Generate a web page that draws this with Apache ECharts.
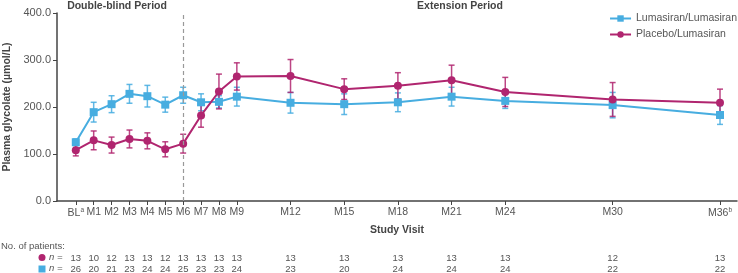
<!DOCTYPE html>
<html><head><meta charset="utf-8">
<script src="https://cdn.jsdelivr.net/npm/echarts@6/dist/echarts.min.js"></script>
<style>html,body{margin:0;padding:0;background:#fff}#c{width:738px;height:273px}</style>
</head><body><div id="c"></div>
<script>
const months = [0,1,2,3,4,5,6,7,8,9,12,15,18,21,24,30,36];
const tickLabels = ['BL','M1','M2','M3','M4','M5','M6','M7','M8','M9','M12','M15','M18','M21','M24','M30','M36'];
const tickSup = ['a','','','','','','','','','','','','','','','','b'];
const blueMean = [125,189,206,228,223,205,225,210,211,222,209,206,210,222,213,204,183];
const blueErr  = [7,21,18,20,23,16,17,18,13,20,22,22,20,20,16,27,20];
const purpleMean = [108,129,119,132,128,110,122,182,233,265,266,238,245,257,232,216,209];
const purpleErr  = [12,20,17,19,17,16,20,25,37,29,35,22,28,32,31,36,29];
const purpleN = [13,10,12,13,13,12,13,13,13,13,13,13,13,13,13,12,13];
const blueN   = [26,20,21,23,24,24,25,23,23,24,23,20,24,24,24,22,22];
const yTicks = [0,100,200,300,400];

const BLUE = '#47ADE0', PURPLE = '#B0256F', TXT = '#555', AX = '#444';
const FONT = 'Liberation Sans, Arial, sans-serif';

function errData(mean, err){ return months.map((m,i)=>[m, mean[i]-err[i], mean[i]+err[i]]); }
function errSeries(mean, err, color){
  return {
    type:'custom', silent:true, z:1,
    data: errData(mean, err),
    renderItem:(params, api)=>{
      const lo = api.coord([api.value(0), api.value(1)]);
      const hi = api.coord([api.value(0), api.value(2)]);
      const w = 3;
      const st = {stroke:color, lineWidth:1.5, opacity:0.85};
      return {type:'group', children:[
        {type:'line', shape:{x1:lo[0],y1:lo[1],x2:hi[0],y2:hi[1]}, style:st},
        {type:'line', shape:{x1:lo[0]-w,y1:lo[1],x2:lo[0]+w,y2:lo[1]}, style:st},
        {type:'line', shape:{x1:hi[0]-w,y1:hi[1],x2:hi[0]+w,y2:hi[1]}, style:st}
      ]};
    }
  };
}

const baseX = {type:'value', min:-1.05, max:36.95, gridIndex:0, splitLine:{show:false}};
const chart = echarts.init(document.getElementById('c'), null, {renderer:'canvas'});
chart.setOption({
  animation:false,
  textStyle:{fontFamily:FONT},
  grid:{left:57, right:1, top:13, bottom:72, containLabel:false, outerBoundsMode:'none'},
  legend:{
    orient:'vertical', right:1, top:13, align:'left', padding:0, itemGap:5, itemWidth:21, itemHeight:8,
    textStyle:{color:TXT, fontSize:10.5, overflow:'none'},
    data:['Lumasiran/Lumasiran','Placebo/Lumasiran']
  },
  xAxis:[
    Object.assign({}, baseX, {
      position:'bottom',
      name:'Study Visit', nameLocation:'middle', nameGap:24,
      nameTextStyle:{color:'#444', fontWeight:'bold', fontSize:10.5},
      axisLine:{show:true, onZero:false, lineStyle:{color:AX, width:1.5}},
      axisTick:{show:true, length:4, customValues:months, lineStyle:{color:AX}},
      axisLabel:{
        customValues:months, color:TXT, fontSize:10.5, margin:6,
        formatter:(v)=>{const i=months.indexOf(v); if(i<0) return ''; return tickSup[i]?tickLabels[i]+'{s|'+tickSup[i]+'}':tickLabels[i];},
        rich:{s:{fontSize:6.5, verticalAlign:'top', color:TXT, padding:[0,0,5,0]}}
      }
    }),
    Object.assign({}, baseX, {
      position:'bottom', offset:52,
      axisLine:{show:false, onZero:false}, axisTick:{show:false},
      axisLabel:{customValues:months, color:TXT, fontSize:9.5, margin:0,
        formatter:(v)=>{const i=months.indexOf(v); return i<0?'':String(purpleN[i]);}}
    }),
    Object.assign({}, baseX, {
      position:'bottom', offset:63,
      axisLine:{show:false, onZero:false}, axisTick:{show:false},
      axisLabel:{customValues:months, color:TXT, fontSize:9.5, margin:0,
        formatter:(v)=>{const i=months.indexOf(v); return i<0?'':String(blueN[i]);}}
    })
  ],
  yAxis:{
    type:'value', min:0, max:400, interval:100,
    name:'Plasma glycolate (µmol/L)', nameLocation:'middle', nameGap:43,
    nameTextStyle:{color:'#444', fontWeight:'bold', fontSize:10.5},
    axisLine:{show:true, onZero:false, lineStyle:{color:AX, width:1.5}},
    axisTick:{show:true, length:4, lineStyle:{color:AX}},
    axisLabel:{color:TXT, fontSize:11, margin:6, formatter:(v)=>yTicks.includes(v)?v.toFixed(1):''},
    splitLine:{show:false}
  },
  graphic:[
    {type:'text', x:117, y:6, style:{text:'Double-blind Period', fill:'#444', font:'bold 10.5px '+FONT, align:'center', verticalAlign:'middle'}},
    {type:'text', x:460, y:6, style:{text:'Extension Period', fill:'#444', font:'bold 10.5px '+FONT, align:'center', verticalAlign:'middle'}},
    {type:'text', x:1, y:246, style:{text:'No. of patients:', fill:TXT, font:'9.5px '+FONT, verticalAlign:'middle'}},
    {type:'circle', shape:{cx:42, cy:257.5, r:3.5}, style:{fill:PURPLE}},
    {type:'rect', shape:{x:38.5, y:265.5, width:7, height:7}, style:{fill:BLUE}},
    {type:'text', x:49, y:257.5, style:{text:'n =', fill:TXT, font:'italic 9.5px '+FONT, verticalAlign:'middle'}},
    {type:'text', x:49, y:268.7, style:{text:'n =', fill:TXT, font:'italic 9.5px '+FONT, verticalAlign:'middle'}}
  ],
  series:[
    errSeries(blueMean, blueErr, BLUE),
    errSeries(purpleMean, purpleErr, PURPLE),
    {
      name:'Lumasiran/Lumasiran', type:'line', z:3,
      data:months.map((m,i)=>[m, blueMean[i]]),
      symbol:'rect', symbolSize:8,
      itemStyle:{color:BLUE}, lineStyle:{color:BLUE, width:2},
      markLine:{silent:true, symbol:'none', label:{show:false},
        lineStyle:{color:'#999', type:[4,3], width:1.2},
        data:[{xAxis:6}]}
    },
    {
      name:'Placebo/Lumasiran', type:'line', z:4,
      data:months.map((m,i)=>[m, purpleMean[i]]),
      symbol:'circle', symbolSize:8,
      itemStyle:{color:PURPLE}, lineStyle:{color:PURPLE, width:2}
    }
  ]
});
</script></body></html>
